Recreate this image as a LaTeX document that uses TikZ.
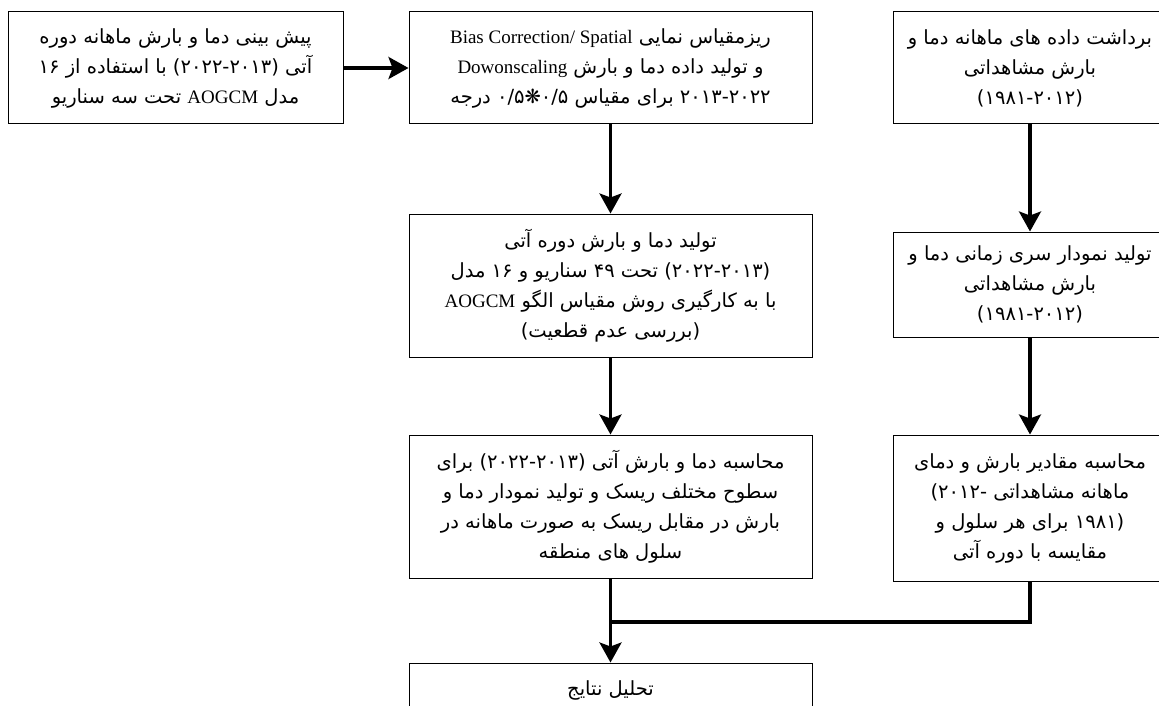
\documentclass[tikz,border=0pt]{standalone}
\usepackage{fontspec}
\setmainfont{Liberation Serif}
\newfontfamily\arabicfont[Script=Arabic]{DejaVu Sans}
\newfontfamily\latinfont{Liberation Serif}
\TeXXeTstate=1
\usetikzlibrary{arrows.meta}
\newcommand{\lat}[1]{{\latinfont\fontsize{19}{30}\selectfont #1}}
\begin{document}
\begin{tikzpicture}[x=1pt,y=1pt,
  box/.style={draw, line width=1pt, inner sep=0pt, align=center,
    font=\arabicfont\fontsize{19.5}{30}\selectfont},
  arr/.style={line width=3.2pt, -{Stealth[length=20pt,width=22pt,inset=4pt]}},
  link/.style={line width=3.2pt}]
\useasboundingbox (0,0) rectangle (1159,-706);
\node[box, minimum width=335, minimum height=112] (b1) at (175.5,-68)
 {\beginR پیش بینی دما و بارش ماهانه دوره\endR\\
  \beginR آتی \beginL(۲۰۲۲-۲۰۱۳)\endL{} با استفاده از \beginL۱۶\endL\endR\\
  \beginR مدل \lat{AOGCM} تحت سه سناریو\endR};
\node[box, minimum width=403, minimum height=112] (b2) at (610.5,-68)
 {\beginR ریزمقیاس نمایی \beginL\lat{Bias Correction/ Spatial}\endL\endR\\
  \beginR و تولید داده دما و بارش \beginL\lat{Dowonscaling}\endL\endR\\
  \beginR \beginL۲۰۱۳-۲۰۲۲\endL{} برای مقیاس \beginL۰/۵❋۰/۵\endL{} درجه\endR};
\node[box, minimum width=274, minimum height=112] (b3) at (1030,-68)
 {\beginR برداشت داده های ماهانه دما و\endR\\
  \beginR بارش مشاهداتی\endR\\
  \beginL(۱۹۸۱-۲۰۱۲)\endL};
\node[box, minimum width=403, minimum height=143] (b4) at (610.5,-285.5)
 {\beginR تولید دما و بارش دوره آتی\endR\\
  \beginR \beginL(۲۰۲۲-۲۰۱۳)\endL{} تحت \beginL۴۹\endL{} سناریو و \beginL۱۶\endL{} مدل\endR\\
  \beginR با به کارگیری روش مقیاس الگو \lat{AOGCM}\endR\\
  \beginR (بررسی عدم قطعیت)\endR};
\node[box, minimum width=274, minimum height=105] (b5) at (1030,-284.5)
 {\beginR تولید نمودار سری زمانی دما و\endR\\
  \beginR بارش مشاهداتی\endR\\
  \beginL(۱۹۸۱-۲۰۱۲)\endL};
\node[box, minimum width=403, minimum height=143] (b6) at (610.5,-506.5)
 {\beginR محاسبه دما و بارش آتی \beginL(۲۰۲۲-۲۰۱۳)\endL{} برای\endR\\
  \beginR سطوح مختلف ریسک و تولید نمودار دما و\endR\\
  \beginR بارش در مقابل ریسک به صورت ماهانه در\endR\\
  \beginR سلول های منطقه\endR};
\node[box, minimum width=274, minimum height=146] (b7) at (1030,-508)
 {\beginR محاسبه مقادیر بارش و دمای\endR\\
  \beginR ماهانه مشاهداتی \beginL-۲۰۱۲)\endL\endR\\
  \beginR \beginL(۱۹۸۱\endL{} برای هر سلول و\endR\\
  \beginR مقایسه با دوره آتی\endR};
\node[box, minimum width=403, minimum height=54] (b8) at (610.5,-690)
 {\beginR تحلیل نتایج\endR};
\coordinate (j) at (610.5,-622);
\draw[arr] (b1.east) -- (b2.west);
\draw[arr] (b2.south) -- (b4.north);
\draw[arr] (b4.south) -- (b6.north);
\draw[arr] (b3.south) -- (b5.north);
\draw[arr] (b5.south) -- (b7.north);
\draw[link] (b7.south) |- (j);
\draw[arr] (b6.south) -- (b8.north);
\end{tikzpicture}
\end{document}
